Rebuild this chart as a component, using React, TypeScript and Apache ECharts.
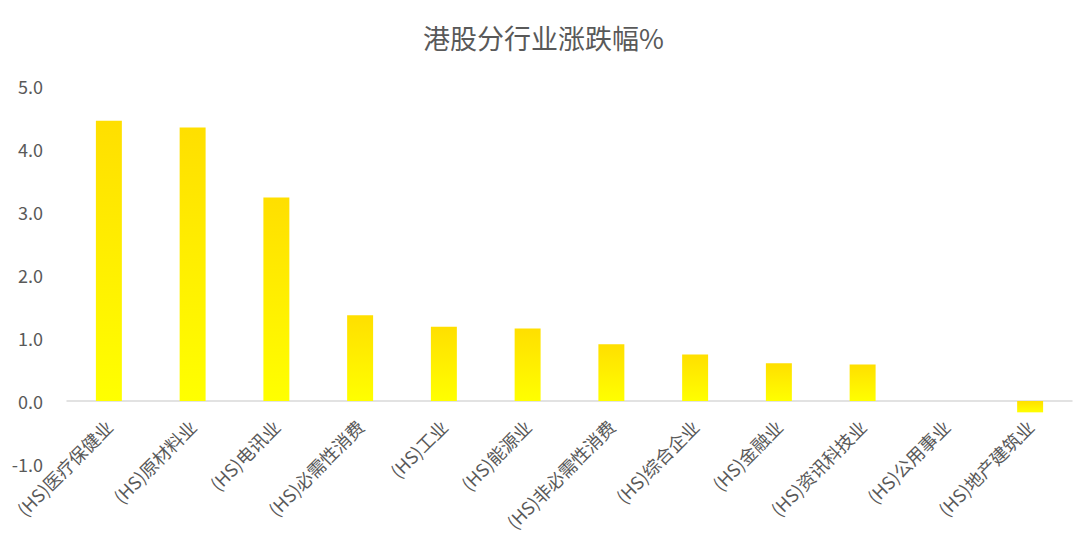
import { useEffect, useRef } from 'react';
import * as echarts from 'echarts';

const title = '港股分行业涨跌幅%';

const industries = [
  '(HS)医疗保健业',
  '(HS)原材料业',
  '(HS)电讯业',
  '(HS)必需性消费',
  '(HS)工业',
  '(HS)能源业',
  '(HS)非必需性消费',
  '(HS)综合企业',
  '(HS)金融业',
  '(HS)资讯科技业',
  '(HS)公用事业',
  '(HS)地产建筑业',
];

const changes = [4.45, 4.34, 3.23, 1.36, 1.18, 1.15, 0.9, 0.74, 0.6, 0.58, 0.0, -0.18];

const yMin = -1;
const yMax = 5;
const yStep = 1;

export default function App() {
  const chartRef = useRef<HTMLDivElement>(null);

  useEffect(() => {
    if (!chartRef.current) return;
    document.body.style.margin = '0';

    const chart = echarts.init(chartRef.current, undefined, { renderer: 'svg' });
    const textColor = '#595959';
    const font = '"Noto Sans CJK SC", "Noto Sans", sans-serif';

    const gridTop = 86;
    const gridBottom = 80;
    const plotHeight = 544 - gridTop - gridBottom;
    // move the category axis (line + labels) up to the zero line
    const zeroOffset = -(plotHeight * (0 - yMin)) / (yMax - yMin);

    const option: echarts.EChartsOption = {
      animation: false,
      backgroundColor: '#ffffff',
      title: {
        text: title,
        left: 'center',
        top: 19,
        textStyle: {
          color: textColor,
          fontSize: 27,
          fontWeight: 'normal',
          fontFamily: font,
        },
      },
      grid: {
        left: 67,
        right: 15,
        top: gridTop,
        bottom: gridBottom,
        containLabel: false,
        outerBoundsMode: 'none',
      } as any,
      xAxis: {
        type: 'category',
        data: industries,
        offset: zeroOffset,
        axisLine: { show: true, onZero: false, lineStyle: { color: '#d9d9d9', width: 1.5 } },
        axisTick: { show: false },
        axisLabel: {
          interval: 0,
          rotate: 45,
          margin: 22,
          color: textColor,
          fontSize: 18,
          fontFamily: font,
        },
        splitLine: { show: false },
      },
      yAxis: {
        type: 'value',
        min: yMin,
        max: yMax,
        interval: yStep,
        axisLine: { show: false },
        axisTick: { show: false },
        splitLine: { show: false },
        axisLabel: {
          margin: 24,
          color: textColor,
          fontSize: 18,
          fontFamily: font,
          formatter: (v: number) => v.toFixed(1),
        },
      },
      series: [
        {
          type: 'bar',
          data: changes,
          barWidth: '31%',
          itemStyle: {
            color: new echarts.graphic.LinearGradient(0, 0, 0, 1, [
              { offset: 0, color: '#ffdf00' },
              { offset: 1, color: '#ffff00' },
            ]),
          },
        },
      ],
    };

    chart.setOption(option);

    return () => {
      chart.dispose();
    };
  }, []);

  return <div ref={chartRef} style={{ width: '1087px', height: '544px' }} />;
}
